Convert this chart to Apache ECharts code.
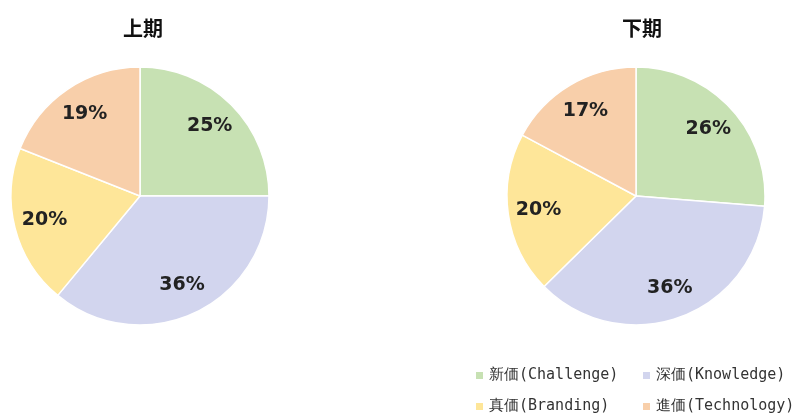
<!DOCTYPE html>
<html>
<head>
<meta charset="utf-8">
<script src="https://cdn.jsdelivr.net/npm/echarts@6/dist/echarts.min.js"></script>
<style>
  html, body { margin: 0; padding: 0; background: #fff; }
  #chart { width: 798px; height: 414px; }
</style>
</head>
<body>
<div id="chart"></div>
<script>
// Segment names and per-period shares (%)
const categories = ['新価(Challenge)', '深価(Knowledge)', '真価(Branding)', '進価(Technology)'];
const firstHalf = [25, 36, 20, 19];
const secondHalf = [26, 36, 20, 17];
const periodTitles = ['上期', '下期'];

const colors = ['#c7e1b3', '#d2d5ee', '#fee699', '#f8cfaa'];

const chart = echarts.init(document.getElementById('chart'));

const toData = (values) => categories.map((name, i) => ({ name, value: values[i] }));

// Visible pie without labels
const piePlain = (values, cx) => ({
  type: 'pie',
  center: [cx, 196],
  radius: [0, 129],
  startAngle: 90,
  clockwise: true,
  data: toData(values),
  label: { show: false },
  labelLine: { show: false },
  itemStyle: { borderColor: '#ffffff', borderWidth: 1.5 },
  emphasis: { disabled: true },
  animation: false,
});

// Transparent ring on top, only to place the labels further out
const pieLabels = (values, cx) => ({
  type: 'pie',
  center: [cx, 196],
  radius: [62, 129],
  startAngle: 90,
  clockwise: true,
  silent: true,
  data: toData(values),
  itemStyle: { color: 'rgba(0,0,0,0)' },
  label: {
    show: true,
    position: 'inside',
    formatter: '{c}%',
    color: '#222',
    fontSize: 19,
    fontWeight: 'bold',
    fontFamily: 'DejaVu Sans',
  },
  labelLine: { show: false },
  emphasis: { disabled: true },
  animation: false,
});

const titleStyle = { fontSize: 20, fontWeight: 'bold', color: '#111', fontFamily: 'Noto Sans CJK JP' };

const option = {
  backgroundColor: '#ffffff',
  color: colors,
  title: [
    { text: periodTitles[0], left: 138, top: 13, textAlign: 'center', textStyle: titleStyle },
    { text: periodTitles[1], left: 637, top: 13, textAlign: 'center', textStyle: titleStyle },
  ],
  legend: {
    data: categories,
    left: 469,
    top: 361,
    width: 330,
    orient: 'horizontal',
    icon: 'rect',
    itemWidth: 9,
    itemHeight: 9,
    itemGap: 12,
    textStyle: {
      color: '#333',
      fontSize: 15,
      fontFamily: 'DejaVu Sans Mono',
      width: 140,
      overflow: 'none',
      lineHeight: 19,
    },
  },
  series: [
    piePlain(firstHalf, 140),
    pieLabels(firstHalf, 140),
    piePlain(secondHalf, 636),
    pieLabels(secondHalf, 636),
  ],
};

chart.setOption(option);
</script>
</body>
</html>
